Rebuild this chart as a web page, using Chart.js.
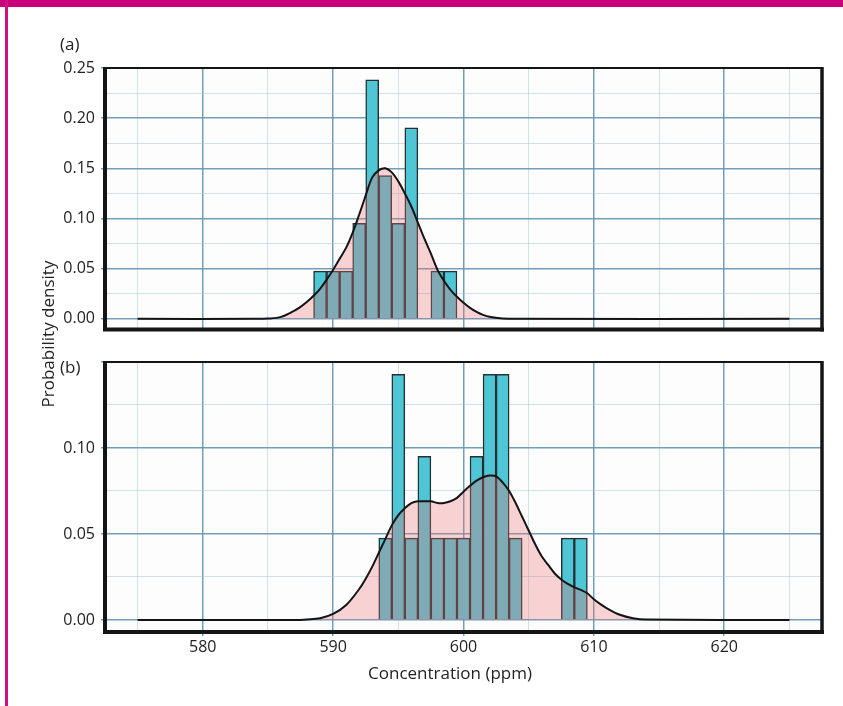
<!DOCTYPE html>
<html><head><meta charset="utf-8">
<script src="https://cdn.jsdelivr.net/npm/chart.js@4.4.1/dist/chart.umd.min.js"></script>
<style>
html,body{margin:0;padding:0;background:#fff;}
#wrap{position:relative;width:843px;height:706px;overflow:hidden;background:#fff;font-family:"Open Sans",sans-serif;color:#222;}
#topbar{position:absolute;left:0;top:0;width:843px;height:7px;background:#c8007a;}
#leftbar{position:absolute;left:5px;top:0;width:3px;height:706px;background:#d0107f;}
canvas{position:absolute;left:0;}
#ca{top:0;}
#cb{top:345px;}
.lab{position:absolute;font-size:17px;line-height:1;white-space:nowrap;color:#222;}
</style></head>
<body><div id="wrap">
<div id="topbar"></div><div id="leftbar"></div>
<canvas id="ca" width="843" height="345"></canvas>
<canvas id="cb" width="843" height="361"></canvas>
<div class="lab" style="left:60px;top:35px;">(a)</div>
<div class="lab" style="left:60px;top:358px;">(b)</div>
<div class="lab" style="left:450px;top:672px;transform:translate(-50%,-50%);">Concentration (ppm)</div>
<div class="lab" style="left:47px;top:334px;transform:translate(-50%,-50%) rotate(-90deg);">Probability density</div>
</div>
<script>
// ---- data ----
const xTicks = [575,580,585,590,595,600,605,610,615,620,625];
const xTickLabels = ['', '580', '', '590', '', '600', '', '610', '', '620', ''];

// panel (a): histogram (bin centres, density) and kernel density curve
const binsA = [589,590,591,592,593,594,595,596,597,598,599];
const histA = [0.0476,0.0476,0.0476,0.0952,0.2381,0.1429,0.0952,0.1905,0,0.0476,0.0476];
const kdeAx = [575,584,585,586,587,587.5,588,588.5,589,589.5,590,590.5,591,591.5,592,592.5,593,593.5,594,594.5,595,595.5,596,596.5,597,597.5,598,598.5,599,599.5,600,600.5,601,601.5,602,603,604,625];
const kdeAy = [0,0,0.0003,0.002,0.008,0.012,0.017,0.023,0.030,0.039,0.049,0.060,0.071,0.086,0.104,0.123,0.141,0.148,0.150,0.146,0.137,0.125,0.112,0.096,0.080,0.065,0.049,0.038,0.029,0.022,0.016,0.011,0.007,0.004,0.002,0.0004,0,0];
const yTicksA = [0,0.025,0.05,0.075,0.1,0.125,0.15,0.175,0.2,0.225,0.25];
const yLabelsA = ['0.00','','0.05','','0.10','','0.15','','0.20','','0.25'];

// panel (b)
const binsB = [594,595,596,597,598,599,600,601,602,603,604,605,606,607,608,609];
const histB = [0.0476,0.1429,0.0476,0.0952,0.0476,0.0476,0.0476,0.0952,0.1429,0.1429,0.0476,0,0,0,0.0476,0.0476];
const kdeBx = [575,587,588,589,590,591,592,592.5,593,593.5,594,594.5,595,595.5,596,596.5,597,597.5,598,598.5,599,599.5,600,600.5,601,601.5,602,602.5,603,603.5,604,604.5,605,605.5,606,606.5,607,607.5,608,608.5,609,609.5,610,610.5,611,612,613,614,625];
const kdeBy = [0,0,0.0003,0.001,0.0035,0.0087,0.018,0.024,0.031,0.039,0.047,0.055,0.061,0.065,0.068,0.069,0.069,0.069,0.068,0.068,0.069,0.071,0.0746,0.078,0.081,0.083,0.084,0.0835,0.080,0.075,0.068,0.060,0.052,0.044,0.037,0.032,0.027,0.0235,0.021,0.019,0.0175,0.0155,0.012,0.0092,0.0068,0.003,0.001,0.0002,0];
const yTicksB = [0,0.025,0.05,0.075,0.1,0.125,0.15];
const yLabelsB = ['0.00','','0.05','','0.10','',''];

// ---- styling ----
Chart.defaults.font.family = '"Open Sans", sans-serif';
const MAJOR = 'rgba(100,148,176,0.9)';
const MINOR = 'rgba(165,198,216,0.5)';
const NONE = 'rgba(0,0,0,0)';

const frame = {
  id: 'frame',
  beforeDraw(chart) {
    const {ctx, chartArea: a} = chart;
    ctx.save();
    ctx.fillStyle = '#fdfdfe';
    ctx.fillRect(a.left, a.top, a.right - a.left, a.bottom - a.top);
    ctx.restore();
  },
  afterDatasetsDraw(chart) {
    const {ctx, chartArea: a} = chart;
    ctx.save();
    ctx.strokeStyle = '#151515';
    ctx.lineWidth = 2;
    ctx.beginPath(); ctx.moveTo(a.left, a.top); ctx.lineTo(a.right, a.top); ctx.stroke();
    ctx.lineWidth = 3.5;
    ctx.beginPath(); ctx.moveTo(a.right, a.top - 1); ctx.lineTo(a.right, a.bottom + 2); ctx.stroke();
    ctx.lineWidth = 4;
    ctx.beginPath();
    ctx.moveTo(a.left, a.top - 1); ctx.lineTo(a.left, a.bottom + 2);
    ctx.moveTo(a.left - 2, a.bottom); ctx.lineTo(a.right + 2, a.bottom);
    ctx.stroke();
    ctx.restore();
  }
};

function build(id, bins, hist, kx, ky, yTicks, yLabels, ymin, ymax, pad, showX) {
  const isMajorX = c => c.tick && xTickLabels[xTicks.indexOf(c.tick.value)] !== '';
  const isMajorY = c => c.index % 2 === 0;
  return new Chart(document.getElementById(id), {
    type: 'bar',
    data: {
      datasets: [
        {
          type: 'line',
          data: kx.map((x, i) => ({x: x, y: ky[i]})),
          order: 0,
          borderColor: '#141414',
          borderWidth: 2,
          backgroundColor: 'rgba(238,110,110,0.3)',
          fill: 'origin',
          pointRadius: 0,
          tension: 0.35
        },
        {
          type: 'bar',
          data: bins.map((x, i) => ({x: x, y: hist[i]})),
          order: 1,
          backgroundColor: 'rgb(78,198,214)',
          borderColor: '#263032',
          borderWidth: 1.5,
          barPercentage: 1,
          categoryPercentage: 1
        }
      ]
    },
    options: {
      responsive: false,
      animation: false,
      events: [],
      layout: {padding: pad},
      plugins: {legend: {display: false}, tooltip: {enabled: false}},
      scales: {
        x: {
          type: 'linear', min: 572.5, max: 627.5, offset: false,
          afterBuildTicks: s => { s.ticks = xTicks.map(v => ({value: v})); },
          afterFit: s => { s.height = showX ? 30 : 0; },
          grid: {
            offset: false,
            color: c => isMajorX(c) ? MAJOR : MINOR,
            lineWidth: c => isMajorX(c) ? 1.5 : 1,
            drawTicks: showX, tickLength: 4,
            tickColor: c => isMajorX(c) ? MAJOR : NONE
          },
          border: {display: false},
          ticks: {
            display: showX, autoSkip: false, maxRotation: 0, padding: 2,
            color: '#222', font: {size: 16},
            callback: (v, i) => xTickLabels[i]
          }
        },
        y: {
          type: 'linear', min: ymin, max: ymax,
          afterBuildTicks: s => { s.ticks = yTicks.map(v => ({value: v})); },
          afterFit: s => { s.width = 60; },
          grid: {
            color: c => isMajorY(c) ? MAJOR : MINOR,
            lineWidth: c => isMajorY(c) ? 1.5 : 1,
            drawTicks: true, tickLength: 4,
            tickColor: c => isMajorY(c) ? MAJOR : NONE
          },
          border: {display: false},
          ticks: {
            autoSkip: false, padding: 6, color: '#222', font: {size: 16},
            callback: (v, i) => yLabels[i]
          }
        }
      }
    },
    plugins: [frame]
  });
}

build('ca', binsA, histA, kdeAx, kdeAy, yTicksA, yLabelsA, -0.0105, 0.25,
      {top: 68, right: 21, bottom: 8, left: 45}, false);
build('cb', binsB, histB, kdeBx, kdeBy, yTicksB, yLabelsB, -0.007, 0.15,
      {top: 17, right: 21, bottom: 44, left: 45}, true);
</script>
</body></html>
